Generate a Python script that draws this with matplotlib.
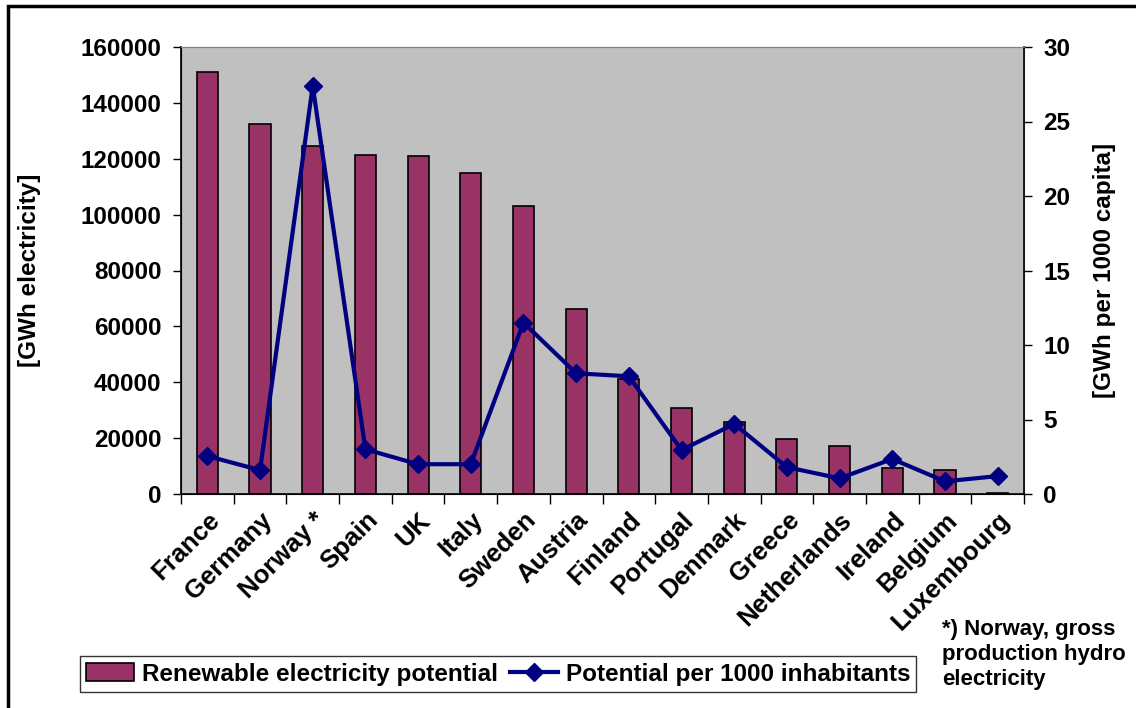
import numpy as np
import matplotlib.pyplot as plt
from matplotlib.patches import Rectangle

plt.rcParams['font.family'] = ['Liberation Sans', 'DejaVu Sans']
plt.rcParams['font.weight'] = 'bold'

countries = ['France', 'Germany', 'Norway *', 'Spain', 'UK', 'Italy', 'Sweden',
             'Austria', 'Finland', 'Portugal', 'Denmark', 'Greece', 'Netherlands',
             'Ireland', 'Belgium', 'Luxembourg']
# total renewable electricity potential, GWh
potential = [151000, 132500, 124500, 121300, 121100, 114900, 103100, 66200,
             41200, 30700, 25700, 19600, 17200, 9300, 8500, 500]
# GWh per 1000 inhabitants
per_capita = [2.55, 1.6, 27.4, 3.0, 2.0, 2.0, 11.5, 8.1, 7.9, 2.95, 4.7, 1.8,
              1.05, 2.35, 0.85, 1.2]

fs = 17.5

fig = plt.figure(figsize=(11.36, 7.08), dpi=100)
ax = fig.add_axes([181/1136, 1-494/708, 843/1136, 447/708])
ax.set_facecolor('#C0C0C0')

x = np.arange(len(countries))
bars = ax.bar(x, potential, width=0.4, color='#993366', edgecolor='black',
              linewidth=1.2, label='Renewable electricity potential', zorder=2)
ax.set_xlim(-0.5, len(countries) - 0.5)
ax.set_ylim(0, 160000)
ax.set_yticks(np.arange(0, 160001, 20000))
ax.tick_params(axis='y', labelsize=fs, direction='out', length=6, width=1, pad=8)
ax.set_xticks(x)
ax.set_xticklabels(countries, rotation=45, ha='right', rotation_mode='anchor',
                   fontsize=18.5)
ax.tick_params(axis='x', which='major', length=0, pad=10)
ax.set_xticks(np.arange(-0.5, len(countries), 1.0), minor=True)
ax.tick_params(axis='x', which='minor', length=7, width=1, direction='out')
for s in ['top', 'right']:
    ax.spines[s].set_color('#808080')
ax.spines['left'].set_linewidth(1.2)
ax.spines['bottom'].set_linewidth(1.2)

ax2 = ax.twinx()
line, = ax2.plot(x, per_capita, color='#000080', linewidth=3, marker='D',
                 markersize=9, label='Potential per 1000 inhabitants', zorder=3)
ax2.set_ylim(0, 30)
ax2.set_yticks(np.arange(0, 31, 5))
ax2.tick_params(axis='y', labelsize=fs, direction='out', length=6, width=1, pad=8)
ax2.spines['right'].set_color('black')
ax2.spines['right'].set_linewidth(1.2)
ax2.spines['top'].set_color('#808080')

fig.text(30/1136, 1-270/708, '[GWh electricity]', rotation=90, fontsize=fs,
         fontweight='bold', ha='center', va='center')
fig.text(1105/1136, 1-270/708, '[GWh per 1000 capita]', rotation=90, fontsize=fs,
         fontweight='bold', ha='center', va='center')

leg = fig.legend([bars, line], ['Renewable electricity potential',
                                'Potential per 1000 inhabitants'],
                 loc='center', bbox_to_anchor=(498/1136, 1-674/708), ncol=2,
                 fontsize=fs, frameon=True, fancybox=False, edgecolor='black',
                 columnspacing=0.5, handlelength=2.0, handletextpad=0.3,
                 borderpad=0.25, borderaxespad=0)
leg.get_frame().set_linewidth(1.0)

fig.text(942/1136, 1-619/708, '*) Norway, gross\nproduction hydro\nelectricity',
         fontsize=16, fontweight='bold', ha='left', va='top', linespacing=1.25)

# outer frame of the chart area
fig.patches.append(Rectangle((8/1136, -0.05), 1.2, 1-6/708 + 0.05,
                             transform=fig.transFigure, fill=False,
                             edgecolor='black', linewidth=2.5))

fig.savefig('out.png', dpi=100)
